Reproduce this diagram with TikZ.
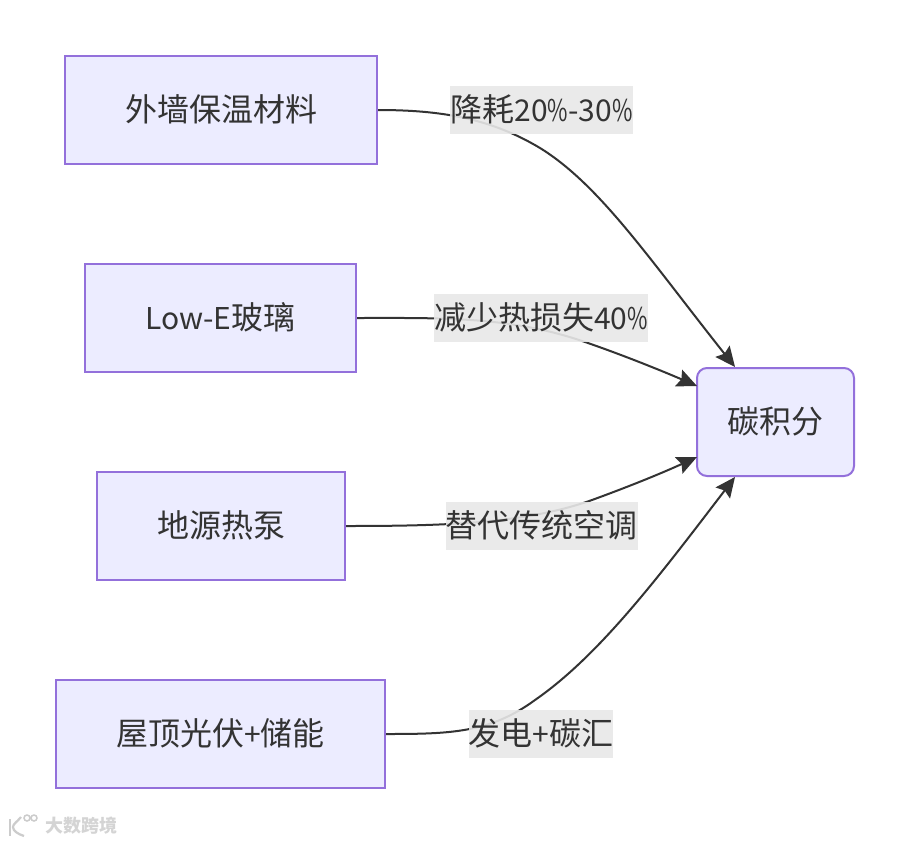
\documentclass[tikz,border=0pt]{standalone}
\usepackage{fontspec}
\setmainfont{Noto Sans CJK SC}
\usetikzlibrary{arrows.meta,calc}
\definecolor{boxfill}{HTML}{ECECFF}
\definecolor{boxline}{HTML}{9370DB}
\definecolor{ink}{HTML}{333333}
\definecolor{labelbg}{HTML}{E8E8E8}
\newcommand{\zh}[1]{{\fontsize{32}{36}\selectfont #1}}
\newcommand{\pct}{\scalebox{.74}[1]{\%}}
\newcommand{\up}[1]{\raisebox{4pt}{#1}}
\tikzset{
  x=1pt,y=-1pt,
  flowbox/.style={draw=boxline,fill=boxfill,line width=2pt,minimum height=108pt,inner sep=0pt,text=ink,font=\fontsize{30}{36}\selectfont},
  goalbox/.style={flowbox,rounded corners=10pt},
  link/.style={draw=ink,line width=2pt,-{Stealth[length=20pt,width=18pt,inset=3pt]}},
  edgelabel/.style={fill=labelbg,fill opacity=.9,text opacity=1,text=ink,inner sep=0pt,minimum height=48pt,font=\fontsize{30}{36}\selectfont},
  mark text/.style={text=black!17,font=\fontsize{18}{20}\selectfont\bfseries},
  mark line/.style={draw=black!20,line width=2.2pt}
}
\begin{document}
\begin{tikzpicture}
\useasboundingbox (0,0) rectangle (909,843);
\fill[white] (0,0) rectangle (909,843);
\node[flowbox,minimum width=312pt] (a) at (221,110) {\up{\zh{外墙保温材料}}};
\node[flowbox,minimum width=271pt] (b) at (220.5,318) {\up{Low-E\zh{玻璃}}};
\node[flowbox,minimum width=248pt] (c) at (221,526) {\up{\zh{地源热泵}}};
\node[flowbox,minimum width=329pt] (d) at (220.5,734) {\up{\zh{屋顶光伏}+\zh{储能}}};
\node[goalbox,minimum width=157pt] (t) at (775.5,422) {\up{\zh{碳积分}}};
\coordinate (ta) at ($(t.north west)+(39,0)$);
\coordinate (tb) at ($(t.north west)+(1,19)$);
\coordinate (tc) at ($(t.south west)+(1,-20)$);
\coordinate (td) at ($(t.south west)+(39,0)$);
\draw[link] (a.east) .. controls (440,110) and (490,118) .. (540,148) .. controls (600,185) and (650,260) .. (ta);
\draw[link] (b.east) .. controls (440,318) and (510,316) .. (585,342) .. controls (620,354) and (660,370) .. (tb);
\draw[link] (c.east) .. controls (440,526) and (525,524) .. (592,500) .. controls (625,488) and (660,474) .. (tc);
\draw[link] (d.east) .. controls (450,734) and (490,733) .. (535,700) .. controls (600,655) and (660,575) .. (td);
\node[edgelabel,minimum width=183pt] (la) at (541.5,110) {\up{\zh{降耗}20\pct-30\pct}};
\node[edgelabel,minimum width=212pt] (lb) at (541,318) {\up{\zh{减少热损失}40\pct}};
\node[edgelabel,minimum width=191pt] (lc) at (541.5,526) {\up{\zh{替代传统空调}}};
\node[edgelabel,minimum width=144pt] (ld) at (541,734) {\up{\zh{发电}+\zh{碳汇}}};
\node[mark text,anchor=west,inner sep=0pt] (w) at (45,825.5) {大数跨境};
\draw[mark line] (10,819) -- (10,836);
\draw[mark line] (21,817) .. controls (17,822) and (13,824) .. (13,827) .. controls (13,831) and (18,834) .. (24,836);
\draw[mark line,line width=1.5pt] (27,818) circle (3pt) (34,818) circle (3pt);
\end{tikzpicture}
\end{document}
